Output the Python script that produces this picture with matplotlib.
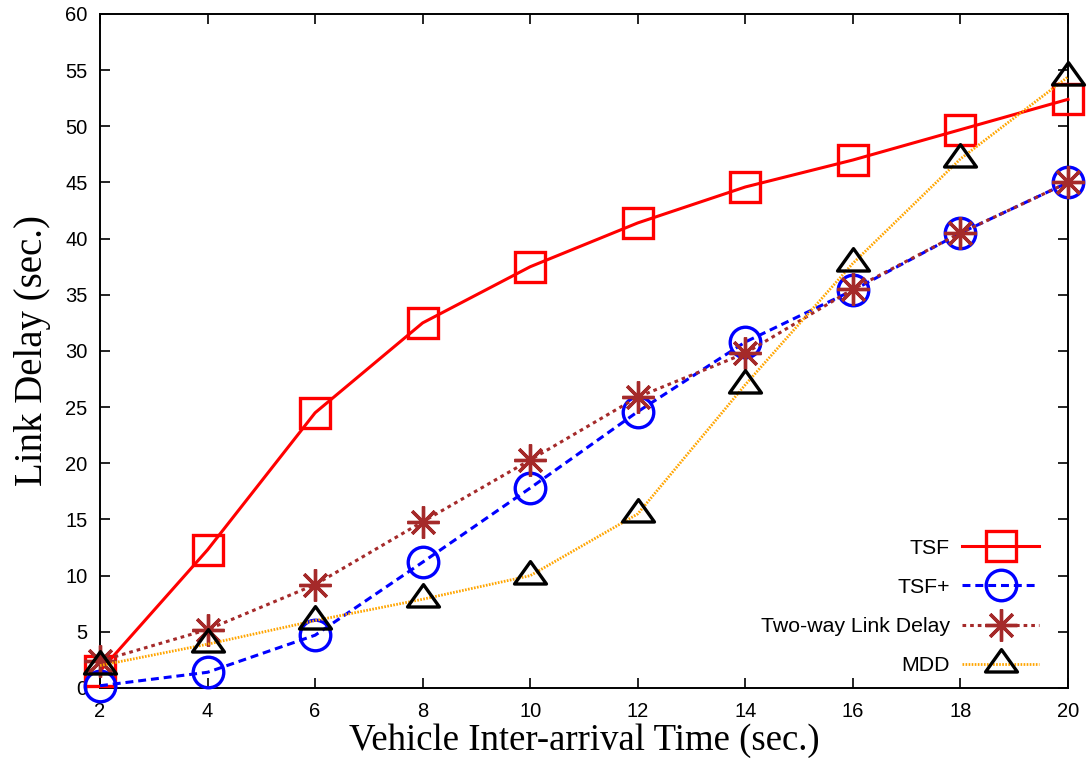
import numpy as np
import matplotlib
matplotlib.use("Agg")
import matplotlib.pyplot as plt
from matplotlib.path import Path

# data
arrival = [2, 4, 6, 8, 10, 12, 14, 16, 18, 20]
tsf = [1.5, 12.3, 24.5, 32.5, 37.5, 41.4, 44.6, 47.0, 49.7, 52.4]
tsf_plus = [0.2, 1.4, 4.7, 11.2, 17.8, 24.6, 30.8, 35.4, 40.5, 45.0]
two_way = [2.4, 5.2, 9.2, 14.8, 20.3, 25.9, 29.8, 35.5, 40.5, 45.0]
mdd = [2.0, 3.9, 6.0, 7.9, 10.0, 15.5, 27.0, 37.8, 47.1, 54.4]

xticks = list(range(2, 21, 2))
yticks = list(range(0, 61, 5))

plt.rcParams['font.family'] = ['Liberation Sans', 'DejaVu Sans']

# gnuplot-style triangle: point sits at the centroid, wider than tall
tri = Path([(0, 0.93), (-1, -0.47), (1, -0.47), (0, 0.93)],
           [Path.MOVETO, Path.LINETO, Path.LINETO, Path.CLOSEPOLY])

fig = plt.figure(figsize=(10.87, 7.63), dpi=100)
ax = fig.add_axes([0.092, 0.0983, 0.8905, 0.8834])

ax.plot(arrival, tsf, color='#ff0000', lw=2.2, ls='-', marker='s', ms=21.5,
        mfc='none', mec='#ff0000', mew=2.4, clip_on=False, label='TSF', zorder=3)
ax.plot(arrival, tsf_plus, color='#0000ff', lw=2.2, ls=(0, (2.6, 1.6)), marker='o', ms=22,
        mfc='none', mec='#0000ff', mew=2.4, clip_on=False, label='TSF+', zorder=3)
ax.plot(arrival, two_way, color='#a52a2a', lw=2.2, ls=(0, (1.2, 1.3)), marker=(8, 2, 0), ms=23,
        mfc='none', mec='#a52a2a', mew=2.4, clip_on=False, label='Two-way Link Delay', zorder=4)
ax.plot(arrival, mdd, color='#ffa500', lw=2.0, ls=(0, (0.6, 0.5)), marker=tri, ms=23,
        mfc='none', mec='black', mew=2.4, clip_on=False, label='MDD', zorder=5)

ax.set_xlim(2, 20)
ax.set_ylim(0, 60)
ax.set_xticks(xticks)
ax.set_yticks(yticks)
ax.tick_params(direction='in', length=7, width=1.2, top=True, right=True,
               labelsize=14.5)
ax.tick_params(axis='x', pad=10)
ax.tick_params(axis='y', pad=9)
for s in ax.spines.values():
    s.set_linewidth(1.4)

ax.set_xlabel('Vehicle Inter-arrival Time (sec.)', family='Liberation Serif',
              fontsize=26.5, labelpad=2)
ax.set_ylabel('Link Delay (sec.)', family='Liberation Serif', fontsize=28, labelpad=10)

ax.legend(loc='lower right', markerfirst=False, frameon=False, fontsize=15.3,
          handlelength=3.6, labelspacing=0.95, handletextpad=0.6,
          bbox_to_anchor=(0.983, 0.0), borderaxespad=0.2)

fig.savefig('out.png', dpi=100)
